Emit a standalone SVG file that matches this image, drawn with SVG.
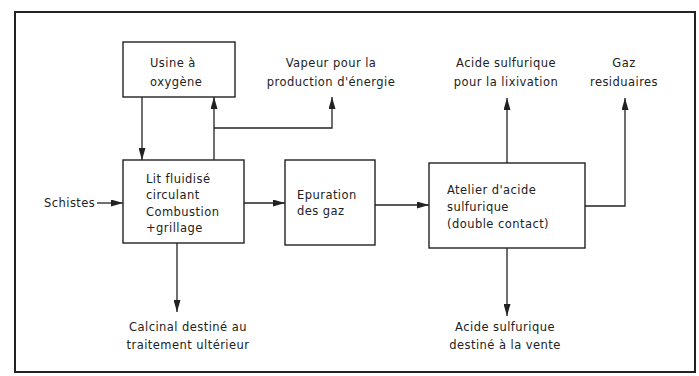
<svg xmlns="http://www.w3.org/2000/svg" width="699" height="376" viewBox="0 0 699 376">
<style>
.box{fill:#fff;stroke:#222;stroke-width:1.4}
.ln{fill:none;stroke:#222;stroke-width:1.3}
text{font-family:"DejaVu Sans","Liberation Sans",sans-serif;font-size:11.5px;fill:#222;letter-spacing:0.45px}
.c{text-anchor:middle}
</style>
<defs>
<marker id="ah" viewBox="0 0 12 7" refX="12" refY="3.5" markerWidth="12" markerHeight="7" markerUnits="userSpaceOnUse" orient="auto">
<path d="M0,0 L12,3.5 L0,7 Z" fill="#222"/>
</marker>
</defs>
<rect x="0" y="0" width="699" height="376" fill="#fff"/>
<rect x="15" y="12" width="680" height="360" fill="none" stroke="#222" stroke-width="2"/>
<g id="connectors">
<path class="ln" d="M142,97 V160" marker-end="url(#ah)"/>
<path class="ln" d="M214,160 V97" marker-end="url(#ah)"/>
<path class="ln" d="M214,128 H332 V97" marker-end="url(#ah)"/>
<path class="ln" d="M97,203 H123" marker-end="url(#ah)"/>
<path class="ln" d="M244,203 H285" marker-end="url(#ah)"/>
<path class="ln" d="M375,205 H429" marker-end="url(#ah)"/>
<path class="ln" d="M177,243 V312" marker-end="url(#ah)"/>
<path class="ln" d="M507,163 V98" marker-end="url(#ah)"/>
<path class="ln" d="M585,206 H625 V98" marker-end="url(#ah)"/>
<path class="ln" d="M507,248 V316" marker-end="url(#ah)"/>
</g>
<g id="usine">
<rect class="box" x="123" y="42" width="112" height="55"/>
<text x="150" y="67">Usine à</text>
<text x="150" y="86">oxygène</text>
</g>
<g id="lit">
<rect class="box" x="123" y="160" width="121" height="83"/>
<text x="146" y="183">Lit fluidisé</text>
<text x="146" y="199">circulant</text>
<text x="146" y="216">Combustion</text>
<text x="146" y="232">+grillage</text>
</g>
<g id="epuration">
<rect class="box" x="285" y="160" width="90" height="85"/>
<text x="297" y="199">Epuration</text>
<text x="297" y="215">des gaz</text>
</g>
<g id="atelier">
<rect class="box" x="429" y="163" width="156" height="85"/>
<text x="447" y="194">Atelier d'acide</text>
<text x="447" y="211">sulfurique</text>
<text x="447" y="228">(double contact)</text>
</g>
<g id="vapeur">
<text class="c" x="331" y="67">Vapeur pour la</text>
<text class="c" x="331" y="86">production d'énergie</text>
</g>
<g id="lixivation">
<text class="c" x="506" y="67">Acide sulfurique</text>
<text class="c" x="506" y="86">pour la lixivation</text>
</g>
<g id="gaz">
<text class="c" x="624" y="67">Gaz</text>
<text class="c" x="624" y="86">residuaires</text>
</g>
<g id="schistes">
<text x="44" y="207">Schistes</text>
</g>
<g id="calcinal">
<text class="c" x="188" y="331">Calcinal destiné au</text>
<text class="c" x="188" y="349">traitement ultérieur</text>
</g>
<g id="vente">
<text class="c" x="505" y="331">Acide sulfurique</text>
<text class="c" x="505" y="349">destiné à la vente</text>
</g>
</svg>
